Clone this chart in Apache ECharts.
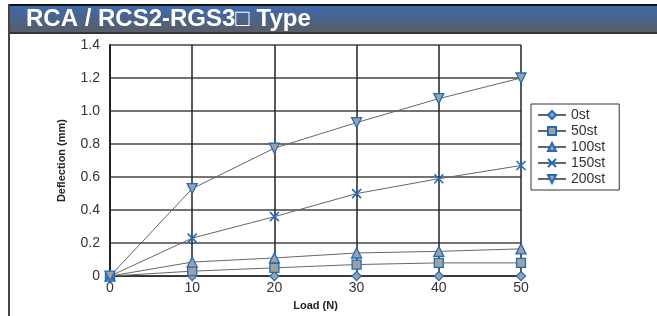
<!DOCTYPE html>
<html>
<head>
<meta charset="utf-8">
<script src="https://cdn.jsdelivr.net/npm/echarts@6/dist/echarts.min.js"></script>
<style>
  html, body { margin: 0; padding: 0; background: #fff; }
  #chart { width: 657px; height: 316px; }
</style>
</head>
<body>
<div id="chart"></div>
<script>
const loads = [0, 10, 20, 30, 40, 50];
const st0 = [0, 0, 0, 0, 0, 0];
const st50 = [0, 0.03, 0.05, 0.07, 0.08, 0.08];
const st100 = [0, 0.085, 0.11, 0.14, 0.15, 0.165];
const st150 = [0, 0.23, 0.36, 0.5, 0.59, 0.67];
const st200 = [0, 0.53, 0.775, 0.93, 1.075, 1.2];
const seriesNames = ["0st", "50st", "100st", "150st", "200st"];

const BLUE = "#1f6cbc";
const FILL = "#a0a0a0";
const FONT = "Liberation Sans";

const markerDefs = [
  { symbol: "diamond", size: 9, rotate: 0 },
  { symbol: "rect", size: 9, rotate: 0 },
  { symbol: "triangle", size: 10, rotate: 0 },
  { symbol: "path://M0,0L10,10M10,0L0,10", size: 9, rotate: 0, cross: true },
  { symbol: "triangle", size: 10, rotate: 180 },
];

const allData = [st0, st50, st100, st150, st200];

const chart = echarts.init(document.getElementById("chart"), null, { renderer: "canvas" });

chart.setOption({
  animation: false,
  backgroundColor: "#fff",
  graphic: [
    {
      type: "rect",
      shape: { x: 8, y: 4, width: 649, height: 30 },
      style: {
        fill: new echarts.graphic.LinearGradient(0, 0, 0, 1, [
          { offset: 0, color: "#3b6bb0" },
          { offset: 1, color: "#5c5c62" },
        ]),
      },
      z: 0,
    },
    { type: "rect", shape: { x: 8, y: 4, width: 649, height: 2 }, style: { fill: "#111" } },
    { type: "rect", shape: { x: 8, y: 32, width: 649, height: 2 }, style: { fill: "#333" } },
    { type: "rect", shape: { x: 8, y: 4, width: 2, height: 312 }, style: { fill: "#444" } },
    {
      type: "text",
      left: 26,
      top: 7,
      style: {
        text: "RCA / RCS2-RGS3\u25a1 Type",
        fill: "#fff",
        font: "bold 24px " + FONT,
      },
    },
  ],
  legend: {
    orient: "vertical",
    left: 531,
    top: 104,
    padding: [4, 14, 4, 6],
    itemGap: 2,
    itemWidth: 28,
    itemHeight: 10,
    borderColor: "#333",
    borderWidth: 1,
    textStyle: { fontFamily: FONT, fontSize: 14, color: "#333" },
    data: seriesNames,
  },
  grid: { left: 110, right: 136, top: 45, bottom: 38.5 },
  xAxis: {
    type: "value",
    min: 0,
    max: 50,
    interval: 10,
    name: "Load (N)",
    nameLocation: "middle",
    nameGap: 23,
    nameTextStyle: { fontFamily: FONT, fontSize: 11, fontWeight: "bold", color: "#222" },
    axisLine: { lineStyle: { color: "#222", width: 2 } },
    axisTick: { show: false },
    axisLabel: { fontFamily: FONT, fontSize: 14, color: "#333", margin: 5 },
    splitLine: { lineStyle: { color: "#222", width: 1.5 } },
  },
  yAxis: {
    type: "value",
    min: 0,
    max: 1.4,
    interval: 0.2,
    name: "Deflection (mm)",
    nameLocation: "middle",
    nameGap: 43,
    nameTextStyle: { fontFamily: FONT, fontSize: 11, fontWeight: "bold", color: "#222" },
    axisLine: { lineStyle: { color: "#222", width: 2 } },
    axisTick: { show: false },
    axisLabel: {
      fontFamily: FONT,
      fontSize: 14,
      color: "#333",
      margin: 10,
      formatter: (v) => (v === 0 ? "0" : v.toFixed(1)),
    },
    splitLine: { lineStyle: { color: "#444", width: 1.5 } },
  },
  series: seriesNames.map((name, i) => {
    const m = markerDefs[i];
    return {
      name,
      type: "line",
      data: loads.map((x, j) => [x, allData[i][j]]),
      symbol: m.symbol,
      symbolSize: m.size,
      symbolRotate: m.rotate,
      showAllSymbol: true,
      lineStyle: { color: "#666", width: 1 },
      itemStyle: {
        color: m.cross ? "none" : FILL,
        borderColor: BLUE,
        borderWidth: m.cross ? 1.6 : 1.3,
      },
      z: 3 + i,
    };
  }),
});
</script>
</body>
</html>
